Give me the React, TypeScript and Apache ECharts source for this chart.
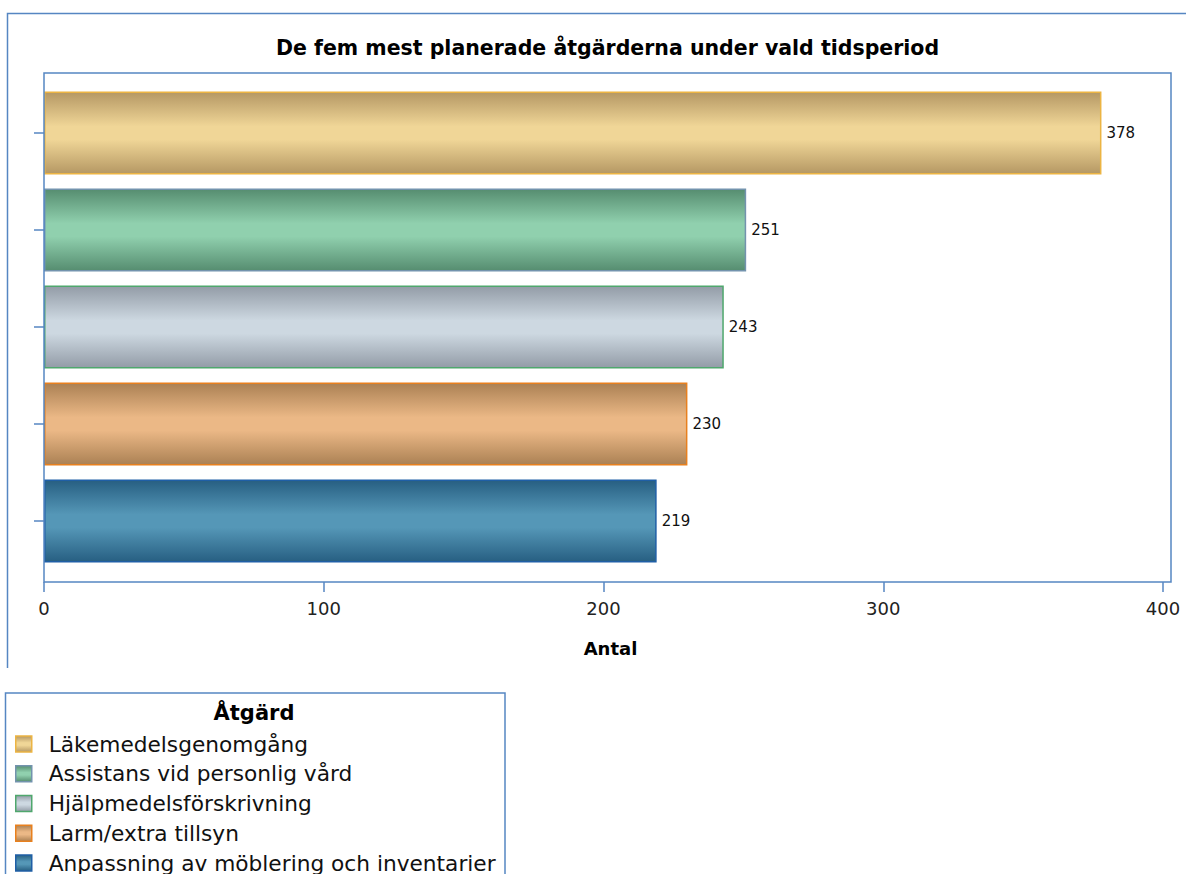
import React, { useEffect, useRef } from "react";
import * as echarts from "echarts";

// Top five planned measures and their counts
const categories = [
  "Läkemedelsgenomgång",
  "Assistans vid personlig vård",
  "Hjälpmedelsförskrivning",
  "Larm/extra tillsyn",
  "Anpassning av möblering och inventarier",
];
const values = [378, 251, 243, 230, 219];

// Axis range
const xMin = 0;
const xMax = 400;
const xStep = 100;

// Shaded fills per measure: [edge shade, centre highlight, outline]
const edgeColors = ["#b59864", "#568d70", "#939ca7", "#ab8154", "#275f82"];
const midColors = ["#f0d697", "#90d0ae", "#cdd8e1", "#ebb886", "#5597b7"];
const outlineColors = ["#ecb443", "#7393ad", "#4fa76d", "#e8801e", "#1f5fa6"];

const FRAME = "#5686c2";
const FONT = "DejaVu Sans";

function shade(i: number) {
  return new echarts.graphic.LinearGradient(0, 0, 0, 1, [
    { offset: 0, color: edgeColors[i] },
    { offset: 0.42, color: midColors[i] },
    { offset: 0.58, color: midColors[i] },
    { offset: 1, color: edgeColors[i] },
  ]);
}

export default function App() {
  const ref = useRef<HTMLDivElement>(null);

  useEffect(() => {
    if (!ref.current) return;
    const chart = echarts.init(ref.current, null, { renderer: "svg" });

    const series = categories.map((name, i) => ({
      type: "bar",
      name,
      data: categories.map((_, j) => (j === i ? values[i] : "-")),
      barGap: "-100%",
      barCategoryGap: "14.5%",
      itemStyle: {
        color: shade(i),
        borderColor: outlineColors[i],
        borderWidth: 1.5,
      },
      label: {
        show: true,
        position: "right",
        distance: 5,
        fontFamily: FONT,
        fontSize: 15,
        color: "#111",
      },
    }));

    chart.setOption({
      animation: false,
      backgroundColor: "#ffffff",
      grid: {
        left: 44,
        top: 84.5,
        width: 1119,
        height: 485,
        containLabel: false,
        outerBoundsMode: "none",
      },
      xAxis: {
        type: "value",
        min: xMin,
        max: xMax,
        interval: xStep,
        offset: 12.5,
        name: "Antal",
        nameLocation: "middle",
        nameGap: 57,
        nameTextStyle: {
          fontFamily: FONT,
          fontWeight: "bold",
          fontSize: 18,
          color: "#000",
          padding: [0, 0, 0, 14],
        },
        axisLine: { show: false },
        axisTick: { show: true, length: 10, lineStyle: { color: FRAME, width: 1.5 } },
        splitLine: { show: false },
        axisLabel: { fontFamily: FONT, fontSize: 18, color: "#222", margin: 17 },
      },
      yAxis: {
        type: "category",
        data: categories,
        inverse: true,
        axisLine: { show: false },
        axisTick: {
          show: true,
          alignWithLabel: true,
          length: 10,
          lineStyle: { color: FRAME, width: 1.5 },
        },
        axisLabel: { show: false },
        splitLine: { show: false },
      },
      legend: {
        data: categories,
        orient: "vertical",
        left: 15,
        top: 733,
        padding: 0,
        icon: "rect",
        itemWidth: 16,
        itemHeight: 16,
        itemGap: 7.75,
        selectedMode: false,
        itemStyle: { borderWidth: 1.5 },
        textStyle: {
          fontFamily: FONT,
          fontSize: 21.7,
          lineHeight: 22,
          color: "#111",
          padding: [0, 0, 0, 12],
        },
      },
      graphic: [
        {
          type: "polyline",
          silent: true,
          shape: { points: [[7.5, 668], [7.5, 13.5], [1186, 13.5]] },
          style: { stroke: FRAME, lineWidth: 1.5, fill: null },
        },
        {
          type: "rect",
          silent: true,
          z: 10,
          shape: { x: 44, y: 73, width: 1127, height: 509 },
          style: { stroke: FRAME, lineWidth: 1.5, fill: null },
        },
        {
          type: "polyline",
          silent: true,
          shape: { points: [[5.5, 874], [5.5, 693], [505, 693], [505, 874]] },
          style: { stroke: FRAME, lineWidth: 1.5, fill: null },
        },
        {
          type: "text",
          x: 607.5,
          y: 47.5,
          style: {
            text: "De fem mest planerade åtgärderna under vald tidsperiod",
            font: `bold 20.5px "${FONT}"`,
            fill: "#000",
            textAlign: "center",
            textVerticalAlign: "middle",
          },
        },
        {
          type: "text",
          x: 254,
          y: 713,
          style: {
            text: "Åtgärd",
            font: `bold 21px "${FONT}"`,
            fill: "#000",
            textAlign: "center",
            textVerticalAlign: "middle",
          },
        },
      ],
      series,
    });

    return () => chart.dispose();
  }, []);

  return (
    <div
      ref={ref}
      style={{ position: "fixed", left: 0, top: 0, width: 1186, height: 874 }}
    />
  );
}
